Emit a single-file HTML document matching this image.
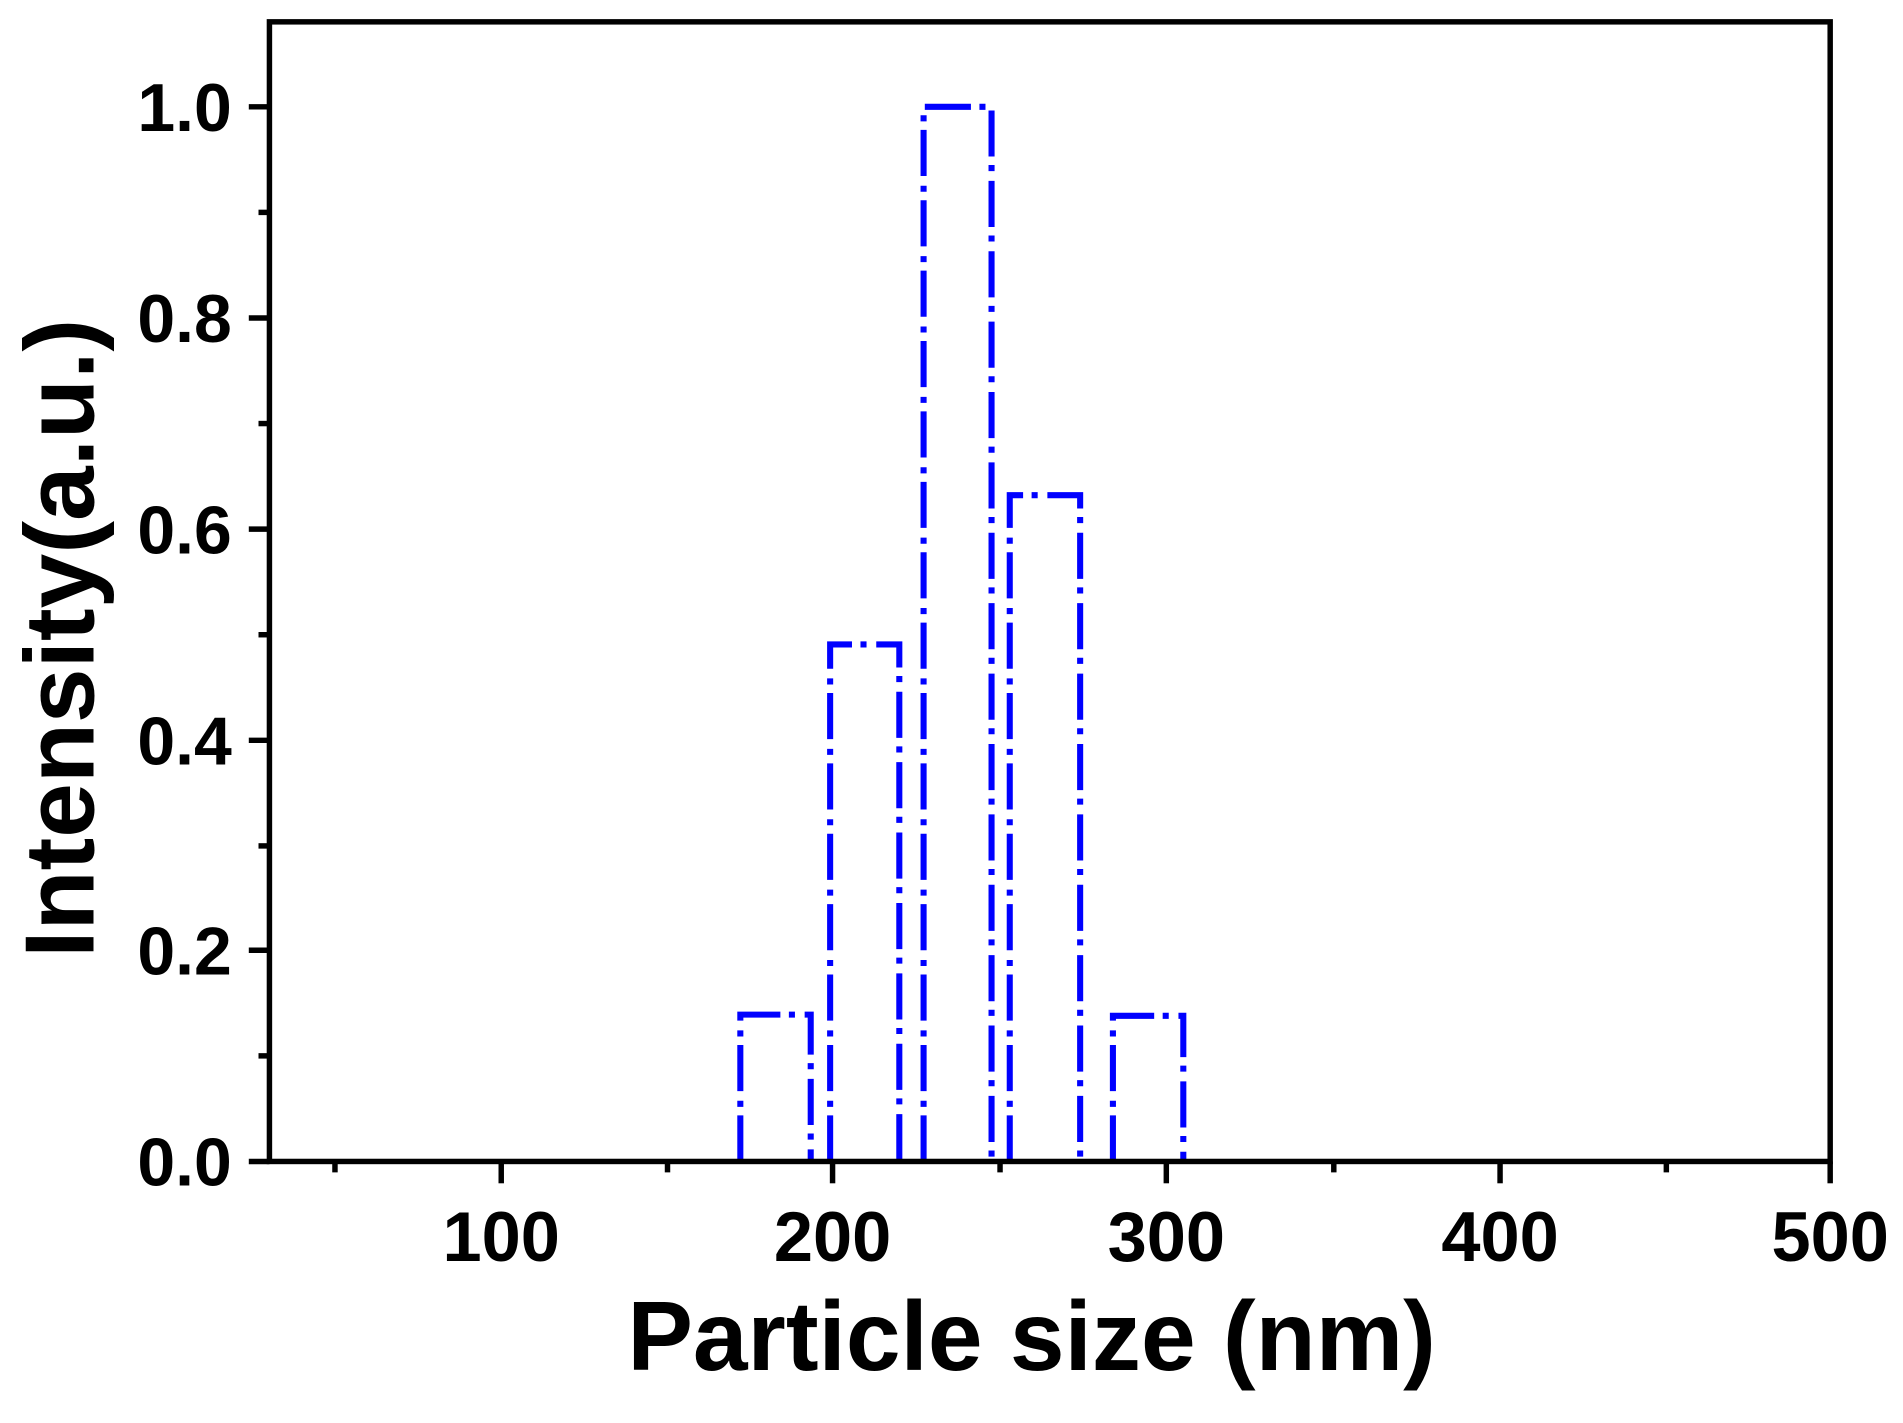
<!DOCTYPE html>
<html><head><style>html,body{margin:0;padding:0;background:#fff;}svg{display:block}</style></head>
<body>
<svg width="1903" height="1423" viewBox="0 0 1568 1172.5" preserveAspectRatio="none" xmlns="http://www.w3.org/2000/svg">
<g fill="none" stroke="#0000ff" stroke-width="5" stroke-dasharray="38 7 5 8">
<path d="M610 957 V836 H668 V957"/>
<path d="M684 957 V531 H741 V957"/>
<path d="M761 957 V88 H817 V957"/>
<path d="M832 957 V408 H890 V957"/>
<path d="M917 957 V837 H975 V957"/>
</g>
<rect x="222" y="18" width="1286" height="939" fill="none" stroke="#000" stroke-width="4.5"/>
<g stroke="#000" stroke-width="4.5">
<line x1="205" y1="957" x2="222" y2="957"/><line x1="205" y1="783" x2="222" y2="783"/><line x1="205" y1="610" x2="222" y2="610"/><line x1="205" y1="436" x2="222" y2="436"/><line x1="205" y1="262" x2="222" y2="262"/><line x1="205" y1="88" x2="222" y2="88"/>
<line x1="213" y1="870" x2="222" y2="870"/><line x1="213" y1="697" x2="222" y2="697"/><line x1="213" y1="523" x2="222" y2="523"/><line x1="213" y1="349" x2="222" y2="349"/><line x1="213" y1="175" x2="222" y2="175"/>
<line x1="413" y1="957" x2="413" y2="975"/><line x1="686" y1="957" x2="686" y2="975"/><line x1="961" y1="957" x2="961" y2="975"/><line x1="1236" y1="957" x2="1236" y2="975"/><line x1="1508" y1="957" x2="1508" y2="975"/>
<line x1="276" y1="957" x2="276" y2="966"/><line x1="550" y1="957" x2="550" y2="966"/><line x1="824" y1="957" x2="824" y2="966"/><line x1="1099" y1="957" x2="1099" y2="966"/><line x1="1373" y1="957" x2="1373" y2="966"/>
</g>
<g font-family="Liberation Sans, Arial, sans-serif" font-weight="bold" fill="#000" font-size="56">
<g text-anchor="end">
<text x="191" y="977">0.0</text><text x="191" y="803">0.2</text><text x="191" y="630">0.4</text><text x="191" y="456">0.6</text><text x="191" y="282">0.8</text><text x="191" y="108">1.0</text>
</g>
<g text-anchor="middle" font-size="58">
<text x="413" y="1039">100</text><text x="686" y="1039">200</text><text x="961" y="1039">300</text><text x="1236" y="1039">400</text><text x="1508" y="1039">500</text>
</g>
<text x="850" y="1129" text-anchor="middle" font-size="81">Particle size (nm)</text>
<text transform="translate(77 526) rotate(-90)" text-anchor="middle" font-size="81">Intensity(a.u.)</text>
</g>
</svg>
</body></html>
